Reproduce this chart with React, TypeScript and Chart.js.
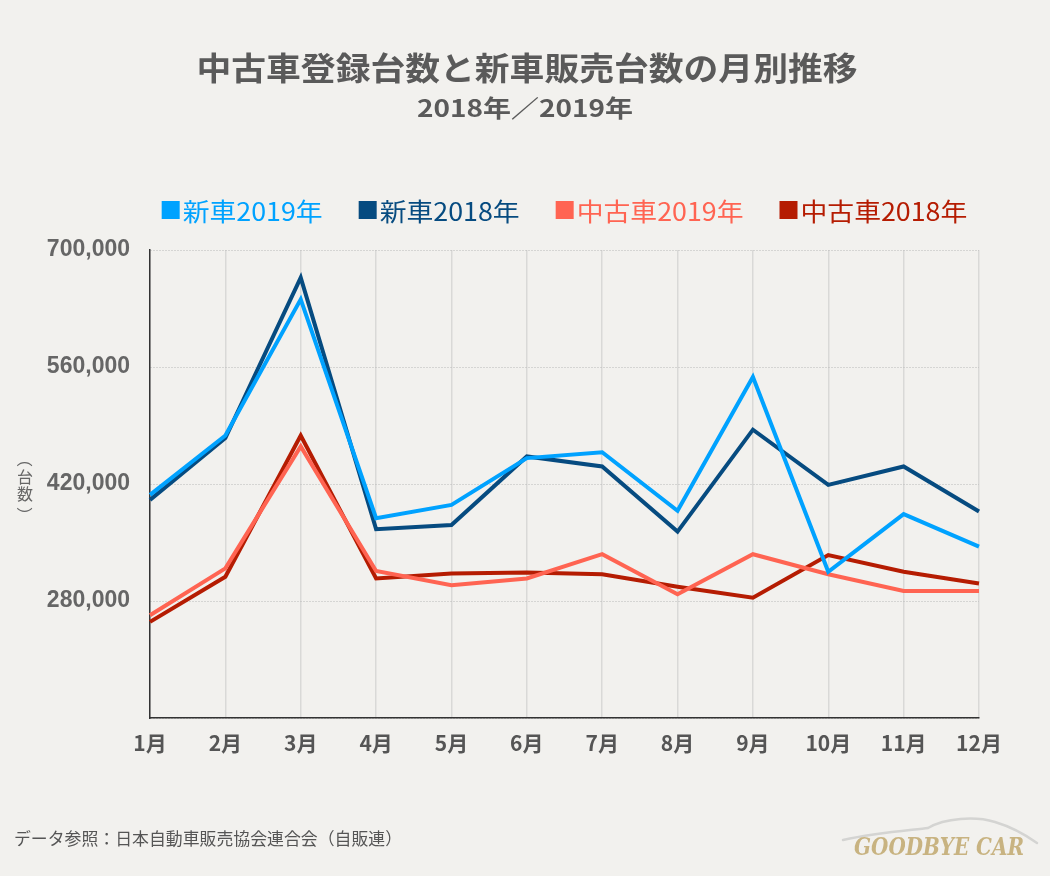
import React, { useEffect, useRef } from 'react';
import { Chart, registerables } from 'chart.js';

Chart.register(...registerables);

const months = ['1月', '2月', '3月', '4月', '5月', '6月', '7月', '8月', '9月', '10月', '11月', '12月'];
const newCar2019 = [407000, 478000, 641000, 379000, 395000, 451000, 458000, 388000, 548000, 315000, 384000, 345000];
const newCar2018 = [401000, 475000, 667000, 366000, 371000, 453000, 441000, 363000, 485000, 419000, 441000, 387000];
const used2019 = [263000, 319000, 465000, 316000, 299000, 307000, 336000, 288000, 336000, 312000, 292000, 292000];
const used2018 = [255000, 309000, 478000, 307000, 313000, 314000, 312000, 297000, 284000, 335000, 315000, 301000];
const seriesNames = ['新車2019年', '新車2018年', '中古車2019年', '中古車2018年'];
const seriesColors = ['#00a2ff', '#064b80', '#ff6452', '#b51c02'];
const yMin = 140000;
const yMax = 700000;
const yStep = 140000;

const titleText = '中古車登録台数と新車販売台数の月別推移';
const subtitleText = '2018年／2019年';
const yAxisLabel = ['（', '台', '数', '）'];
const sourceText = 'データ参照：日本自動車販売協会連合会（自販連）';
const logoText = 'GOODBYE CAR';

const BG = '#f2f1ee';
const JP = "'Noto Sans CJK JP', 'Noto Sans', sans-serif";

function fitText(ctx: CanvasRenderingContext2D, text: string, x: number, y: number, width: number, align: CanvasTextAlign, sy = 1) {
  const w = ctx.measureText(text).width;
  const sx = width / w;
  ctx.save();
  ctx.translate(x, y);
  ctx.scale(sx, sy);
  ctx.textAlign = align;
  ctx.textBaseline = 'middle';
  ctx.fillText(text, 0, 0);
  ctx.restore();
}

const decorPlugin = {
  id: 'decor',
  beforeDraw(chart: any) {
    const ctx = chart.ctx as CanvasRenderingContext2D;
    ctx.save();
    ctx.fillStyle = BG;
    ctx.fillRect(0, 0, chart.width, chart.height);
    ctx.restore();
  },
  afterDraw(chart: any) {
    const ctx = chart.ctx as CanvasRenderingContext2D;
    const area = chart.chartArea;
    ctx.save();
    // title
    ctx.fillStyle = '#5a5a5a';
    ctx.font = `bold 32px ${JP}`;
    fitText(ctx, titleText, 527, 68, 661, 'center');
    ctx.font = `bold 24px ${JP}`;
    fitText(ctx, subtitleText, 525, 108, 216, 'center');

    // legend
    ctx.font = `25px ${JP}`;
    const sx = 140 / ctx.measureText(seriesNames[0]).width;
    const box = 18;
    const gapBox = 3;
    const gapItem = 36;
    const widths = seriesNames.map((n) => ctx.measureText(n).width * sx);
    const total = widths.reduce((a, w) => a + box + gapBox + w, 0) + gapItem * (seriesNames.length - 1);
    let x = (area.left + area.right) / 2 - total / 2;
    const ly = area.top - 40;
    seriesNames.forEach((name, i) => {
      ctx.fillStyle = seriesColors[i];
      ctx.fillRect(x, ly - box / 2, box, box);
      x += box + gapBox;
      ctx.save();
      ctx.translate(x, ly + 1);
      ctx.scale(sx, 1);
      ctx.textAlign = 'left';
      ctx.textBaseline = 'middle';
      ctx.fillText(name, 0, 0);
      ctx.restore();
      x += widths[i] + gapItem;
    });

    // y-axis label (vertical writing)
    ctx.fillStyle = '#666';
    ctx.font = `16px ${JP}`;
    ctx.textAlign = 'center';
    ctx.textBaseline = 'middle';
    const cy = 487;
    const offsets = [-28, -10, 7, 28];
    yAxisLabel.forEach((ch, i) => {
      const yy = cy + offsets[i];
      if (ch === '（' || ch === '）') {
        ctx.save();
        ctx.translate(25, yy);
        ctx.rotate(Math.PI / 2);
        ctx.fillText(ch, 0, 0);
        ctx.restore();
      } else {
        ctx.fillText(ch, 25, yy);
      }
    });

    // source
    ctx.fillStyle = '#555';
    ctx.font = `17px ${JP}`;
    fitText(ctx, sourceText, 14, 839, 388, 'left');

    // logo swoosh
    ctx.strokeStyle = '#d4d4d2';
    ctx.lineWidth = 2.5;
    ctx.lineCap = 'round';
    ctx.beginPath();
    ctx.moveTo(843, 840);
    ctx.bezierCurveTo(880, 832, 915, 830, 928, 828);
    ctx.bezierCurveTo(945, 818, 975, 816, 995, 822);
    ctx.bezierCurveTo(1015, 828, 1030, 838, 1037, 843);
    ctx.stroke();
    // logo text
    ctx.fillStyle = '#c8b381';
    ctx.font = `italic bold 22px 'DejaVu Serif', 'Liberation Serif', serif`;
    fitText(ctx, logoText, 854, 849, 170, 'left', 1.1);
    ctx.restore();
  },
};

export default function App() {
  const ref = useRef<HTMLCanvasElement>(null);
  useEffect(() => {
    if (!ref.current) return;
    const seriesData = [newCar2019, newCar2018, used2019, used2018];
    const chart = new Chart(ref.current, {
      type: 'line',
      data: {
        labels: months,
        datasets: seriesNames.map((name, i) => ({
          label: name,
          data: seriesData[i],
          borderColor: seriesColors[i],
          backgroundColor: seriesColors[i],
          borderWidth: 4,
          pointRadius: 0,
          pointHoverRadius: 0,
          tension: 0,
          fill: false,
        })),
      },
      options: {
        responsive: false,
        animation: false,
        layout: { padding: { top: 250, left: 0, right: 71, bottom: 118 } },
        plugins: {
          legend: { display: false },
          title: { display: false },
          tooltip: { enabled: false },
        },
        scales: {
          x: {
            afterFit: (s: any) => { s.height = 40; },
            grid: { color: '#d9d9d7', lineWidth: 1.5, drawTicks: false },
            border: { color: '#333', width: 1.5 },
            ticks: {
              padding: 12,
              color: '#555',
              font: { family: JP, size: 21, weight: 'bold' },
              maxRotation: 0,
              autoSkip: false,
            },
          },
          y: {
            min: yMin,
            max: yMax,
            afterFit: (s: any) => { s.width = 150; },
            grid: { color: '#b9b9b9', lineWidth: 1, drawTicks: false },
            border: { color: '#333', width: 1.5, dash: [1, 2] },
            ticks: {
              stepSize: yStep,
              padding: 20,
              color: '#666',
              font: { family: "'Liberation Sans', Arial, sans-serif", size: 23, weight: 'bold' },
              callback: (v: any) => (Number(v) === yMin ? '' : Number(v).toLocaleString('en-US')),
            },
          },
        },
      },
      plugins: [decorPlugin],
    });
    return () => chart.destroy();
  }, []);
  return (
    <div style={{ position: 'absolute', left: 0, top: 0, width: 1050, height: 876, background: BG }}>
      <canvas ref={ref} width={1050} height={876} style={{ display: 'block' }} />
    </div>
  );
}
